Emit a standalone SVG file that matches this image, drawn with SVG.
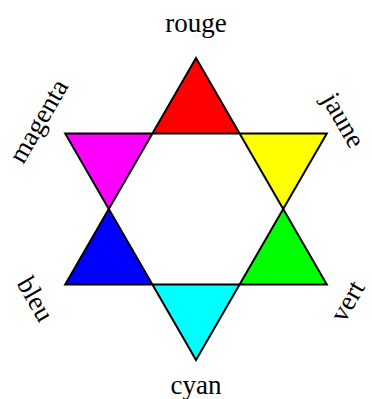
<svg xmlns="http://www.w3.org/2000/svg" width="372" height="399" viewBox="0 0 372 399">
<style>
.t{stroke:#000;stroke-width:2;stroke-linejoin:miter}
.lbl{font-family:"Liberation Serif","DejaVu Serif",serif;font-size:27px;fill:#000;text-anchor:middle}
</style>
<rect width="372" height="399" fill="#fff"/>
<g id="red"><polygon class="t" fill="#ff0000" points="196,58 152.4,133.5 239.6,133.5"/></g>
<g id="yellow"><polygon class="t" fill="#ffff00" points="239.6,133.5 326.8,133.5 283.2,209"/></g>
<g id="green"><polygon class="t" fill="#00ff00" points="283.2,209 326.8,284.5 239.6,284.5"/></g>
<g id="cyan"><polygon class="t" fill="#00ffff" points="239.6,284.5 152.4,284.5 196,360"/></g>
<g id="blue"><polygon class="t" fill="#0000ff" points="152.4,284.5 65.2,284.5 108.8,209"/></g>
<g id="magenta"><polygon class="t" fill="#ff00ff" points="108.8,209 65.2,133.5 152.4,133.5"/></g>
<g id="labels">
<text class="lbl" x="196" y="32">rouge</text>
<text class="lbl" x="196" y="394">cyan</text>
<text class="lbl" transform="translate(342,121) rotate(60)" y="7">jaune</text>
<text class="lbl" transform="translate(40,122) rotate(-60)" y="7">magenta</text>
<text class="lbl" transform="translate(34,300) rotate(60)" y="7">bleu</text>
<text class="lbl" transform="translate(349,302) rotate(-60)" y="7">vert</text>
</g>
</svg>
